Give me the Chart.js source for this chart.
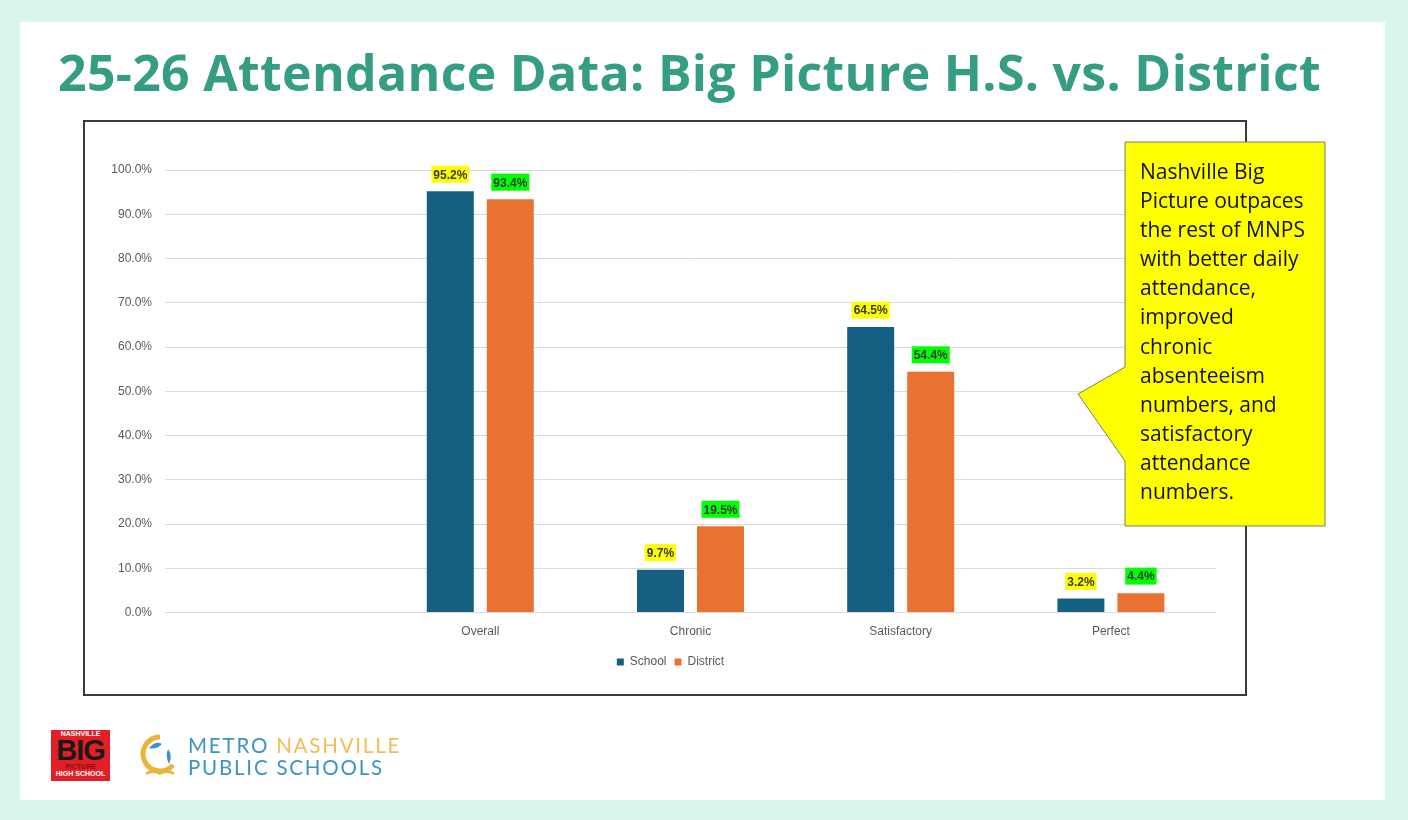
<!DOCTYPE html>
<html>
<head>
<meta charset="utf-8">
<script src="https://cdn.jsdelivr.net/npm/chart.js@4.4.1/dist/chart.umd.min.js"></script>
<style>
  html, body { margin: 0; padding: 0; }
  body {
    width: 1408px; height: 820px; background: #d9f6ee;
    position: relative; overflow: hidden; font-family: "Open Sans", sans-serif;
  }
  .panel { position: absolute; left: 20px; top: 22px; width: 1365px; height: 778px; background: #fff; }
  .title {
    position: absolute; left: 58px; top: 38px; margin: 0; letter-spacing: 0.3px;
    font: 700 50px "Open Sans", sans-serif; color: #359d83; white-space: nowrap;
  }
  .chart-box {
    position: absolute; left: 83px; top: 120px; width: 1160px; height: 572px;
    border: 2px solid #3a3a3a; background: #fff;
  }
  .chart-box canvas { position: absolute; left: 0; top: 0; }
  .callout { position: absolute; left: 0; top: 0; pointer-events: none; }
  .callout-text {
    position: absolute; left: 1140px; top: 157px; white-space: nowrap;
    font: 400 21px "Open Sans", sans-serif; line-height: 29.1px; color: #111;
  }
  /* logos */
  .bp-logo {
    position: absolute; left: 51px; top: 730px; width: 59px; height: 51px;
    background: #e21f26; text-align: center; font-family: "Liberation Sans", Arial, sans-serif;
  }
  .bp-logo .small { color: #fff; font-size: 7px; font-weight: 700; line-height: 8px; }
  .bp-logo .big { color: #1a1a1a; font-size: 29px; font-weight: 900; line-height: 25px; letter-spacing: -1px; }
  .bp-logo .pic { color: #8a1015; font-size: 7px; font-weight: 700; line-height: 7px; }
  .mnps-text {
    position: absolute; left: 188px; top: 734px;
    font: 400 20.5px Lato, sans-serif; letter-spacing: 1.8px; line-height: 22px; color: #3d94c4;
  }
  .mnps-text .gold { color: #f2bd52; }
</style>
</head>
<body>
<div class="panel"></div>
<h1 class="title">25-26 Attendance Data: Big Picture H.S. vs. District</h1>

<div class="chart-box">
  <canvas id="chart" width="1160" height="572"></canvas>
</div>

<svg class="callout" width="1408" height="820">
  <polygon points="1125,142 1325,142 1325,526 1125,526 1125,461 1078,394 1125,367"
           fill="#ffff00" stroke="#7a7a7a" stroke-width="1"/>
</svg>
<div class="callout-text">Nashville Big<br>Picture outpaces<br>the rest of MNPS<br>with better daily<br>attendance,<br>improved<br>chronic<br>absenteeism<br>numbers, and<br>satisfactory<br>attendance<br>numbers.</div>

<div class="bp-logo">
  <div class="small">NASHVILLE</div>
  <div class="big">BIG</div>
  <div class="pic">PICTURE</div>
  <div class="small">HIGH SCHOOL</div>
</div>
<svg style="position:absolute;left:140px;top:734px" width="40" height="44">
  <path d="M20,3 A17,17 0 1,0 33,31" fill="none" stroke="#e9b43a" stroke-width="5"/>
  <path d="M9,14 Q16,6 22,10 Q16,16 9,14 Z" fill="#3d94c4"/>
  <path d="M28,15 Q33,22 29,30 Q25,22 28,15 Z" fill="#3d94c4"/>
  <path d="M6,38 Q14,34 20,38 Q26,34 34,38 L34,41 Q26,37 20,41 Q14,37 6,41 Z" fill="#e9b43a"/>
</svg>
<div class="mnps-text">METRO <span class="gold">NASHVILLE</span><br>PUBLIC SCHOOLS</div>

<script>
// ---- data ----
const categories = ['', 'Overall', 'Chronic', 'Satisfactory', 'Perfect'];
const schoolValues = [null, 95.2, 9.7, 64.5, 3.2];
const districtValues = [null, 93.4, 19.5, 54.4, 4.4];
const yTicks = [0, 10, 20, 30, 40, 50, 60, 70, 80, 90, 100];

const SCHOOL_COLOR = '#156082';
const DISTRICT_COLOR = '#e97132';
const AXIS_TEXT = '#595959';
const AXIS_FONT = { size: 12, family: '"Liberation Sans", Arial, sans-serif' };

// highlighted value labels above each bar
const highlightLabels = {
  id: 'highlightLabels',
  afterDatasetsDraw(chart) {
    const ctx = chart.ctx;
    ctx.save();
    ctx.font = 'bold 12px "Liberation Sans Narrow", "Liberation Sans", Arial, sans-serif';
    ctx.textAlign = 'center';
    ctx.textBaseline = 'middle';
    chart.data.datasets.forEach((ds, i) => {
      const meta = chart.getDatasetMeta(i);
      meta.data.forEach((bar, j) => {
        const v = ds.data[j];
        if (v === null || v === undefined) return;
        const text = v.toFixed(1) + '%';
        const w = ctx.measureText(text).width + 4;
        const cy = bar.y - 17;
        ctx.fillStyle = ds.highlight;
        ctx.fillRect(bar.x - w / 2, cy - 8.5, w, 17);
        ctx.fillStyle = '#3a3a3a';
        ctx.fillText(text, bar.x, cy + 1);
      });
    });
    ctx.restore();
  }
};

// the legend sits a bit right of the canvas centre in the original
const shiftLegend = {
  id: 'shiftLegend',
  afterLayout(chart) {
    if (!chart.legend) return;
    chart.legend.left += 20;
    chart.legend.right += 20;
  }
};

new Chart(document.getElementById('chart'), {
  type: 'bar',
  data: {
    labels: categories,
    datasets: [
      { label: 'School', data: schoolValues, backgroundColor: SCHOOL_COLOR, highlight: '#ffff00',
        categoryPercentage: 0.571, barPercentage: 0.783 },
      { label: 'District', data: districtValues, backgroundColor: DISTRICT_COLOR, highlight: '#00ff00',
        categoryPercentage: 0.571, barPercentage: 0.783 }
    ]
  },
  options: {
    responsive: false,
    animation: false,
    layout: { padding: { top: 48, right: 29, left: 0, bottom: 16 } },
    plugins: {
      tooltip: { enabled: false },
      legend: {
        position: 'bottom',
        labels: {
          boxWidth: 7, boxHeight: 7, padding: 8, color: AXIS_TEXT, font: AXIS_FONT
        }
      }
    },
    scales: {
      x: {
        grid: { display: false },
        border: { display: false },
        afterFit(scale) { scale.height += 5; },
        ticks: { color: AXIS_TEXT, padding: 4, font: AXIS_FONT }
      },
      y: {
        min: 0, max: 100,
        afterBuildTicks(scale) { scale.ticks = yTicks.map(v => ({ value: v })); },
        afterFit(scale) { scale.width = 80; },
        grid: { color: '#d9d9d9', drawTicks: false },
        border: { display: false },
        ticks: {
          color: AXIS_TEXT, padding: 13, font: AXIS_FONT,
          callback: v => v.toFixed(1) + '%'
        }
      }
    }
  },
  plugins: [highlightLabels, shiftLegend]
});
</script>
</body>
</html>
